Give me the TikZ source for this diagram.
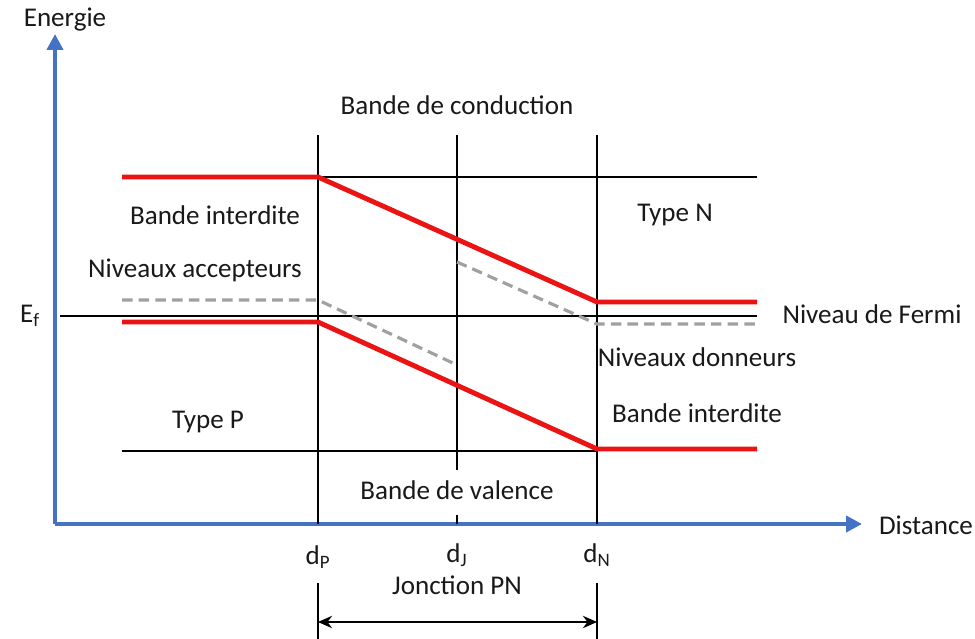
\documentclass[tikz,border=0pt]{standalone}
\usepackage{fontspec}
\setmainfont{Carlito}
\usetikzlibrary{arrows.meta}
\definecolor{axisblue}{RGB}{68,114,196}
\definecolor{bandred}{RGB}{235,20,20}
\definecolor{levgray}{RGB}{160,160,160}
\tikzset{
  axis/.style={axisblue, line width=2.3pt, -{Triangle[length=9pt,width=9pt]}},
  band/.style={bandred, line width=2.8pt, line join=round},
  level/.style={levgray, line width=1.8pt, dash pattern=on 6pt off 3.5pt},
  thin/.style={black, line width=0.8pt},
  lbl/.style={inner sep=1pt, font=\fontsize{15.4}{18}\selectfont, text=black!90}
}
\begin{document}
\begin{tikzpicture}[x=0.02cm, y=-0.02cm]
\useasboundingbox (0,0) rectangle (975,639);

% axes
\coordinate (O) at (55,524);
\coordinate (Ytop) at (55,34);
\coordinate (Xend) at (862,524);
\draw[axis] (O) -- (Ytop);
\draw[axis] (O) -- (Xend);
\node[lbl] (energie) at (65,20) {Energie};
\node[lbl] (distance) at (926,525) {Distance};

% vertical lines
\coordinate (dPt) at (318,135); \coordinate (dPb) at (318,524);
\coordinate (dJt) at (457,135); \coordinate (dJb) at (457,470);
\coordinate (dJu) at (457,515); \coordinate (dJa) at (457,524);
\coordinate (dNt) at (597,135); \coordinate (dNb) at (597,524);
\draw[thin] (dPt) -- (dPb);
\draw[thin] (dJt) -- (dJb);
\draw[thin] (dJu) -- (dJa);
\draw[thin] (dNt) -- (dNb);

% horizontal lines
\coordinate (Ct1) at (318,177); \coordinate (Ct2) at (757,177);
\coordinate (Ef1) at (60,316);  \coordinate (Ef2) at (757,316);
\coordinate (Vb1) at (122,451); \coordinate (Vb2) at (597,451);
\draw[thin] (Ct1) -- (Ct2);
\draw[thin] (Ef1) -- (Ef2);
\draw[thin] (Vb1) -- (Vb2);

% dashed levels
\draw[level] (122,300) -- (318,300) -- (455,364);
\draw[level] (457,262) -- (597,324) -- (757,324);

% bands
\draw[band] (122,177) -- (318,177) -- (597,302) -- (757,302);
\draw[band] (122,322) -- (318,322) -- (597,449) -- (757,449);

% labels
\node[lbl] (conduction) at (457,105) {Bande de conduction};
\node[lbl] (interditeP) at (215,215) {Bande interdite};
\node[lbl] (typeN) at (675,215) {Type N};
\node[lbl] (accepteurs) at (195,270) {Niveaux accepteurs};
\node[lbl] (Ef) at (30,316) {E\textsubscript{f}};
\node[lbl] (fermi) at (872,314) {Niveau de Fermi};
\node[lbl] (donneurs) at (697,357) {Niveaux donneurs};
\node[lbl] (interditeN) at (697,413) {Bande interdite};
\node[lbl] (typeP) at (208,422) {Type P};
\node[lbl] (valence) at (457,490) {Bande de valence};

% distances
\node[lbl] (dP) at (318,557) {d\textsubscript{P}};
\node[lbl] (dJ) at (457,555) {d\textsubscript{J}};
\node[lbl] (dN) at (597,555) {d\textsubscript{N}};
\node[lbl] (jonction) at (457,585) {Jonction PN};

% junction width
\coordinate (jPt) at (318,583); \coordinate (jPb) at (318,639);
\coordinate (jNt) at (597,583); \coordinate (jNb) at (597,639);
\coordinate (jP) at (318,622); \coordinate (jN) at (597,622);
\draw[black, line width=1.5pt] (jPt) -- (jPb);
\draw[black, line width=1.5pt] (jNt) -- (jNb);
\draw[black, line width=1.3pt, {Stealth[length=8pt,width=7pt]}-{Stealth[length=8pt,width=7pt]}] (jP) -- (jN);
\end{tikzpicture}
\end{document}
